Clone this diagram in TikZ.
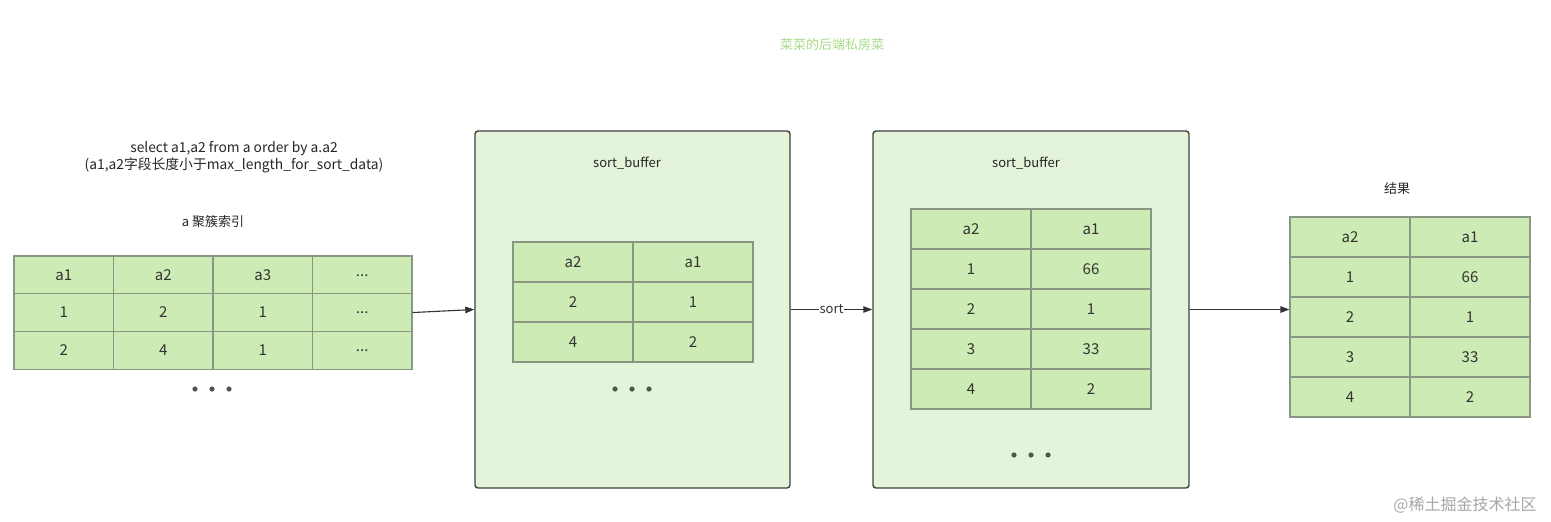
\documentclass[tikz,border=0pt]{standalone}
\usepackage{fontspec}
\setmainfont{Noto Sans CJK SC}
\usetikzlibrary{arrows.meta}
\definecolor{cellfill}{RGB}{205,235,181}
\definecolor{cellline}{RGB}{138,150,132}
\definecolor{boxfill}{RGB}{228,244,218}
\definecolor{boxline}{RGB}{64,64,64}
\definecolor{textdark}{RGB}{51,51,51}
\definecolor{dotcol}{RGB}{75,88,75}
\definecolor{titlegreen}{RGB}{170,218,138}

\begin{document}
\begin{tikzpicture}[x=1pt, y=-1pt,
		cell/.style={draw=cellline, fill=cellfill, line width=1.1pt, inner sep=0pt, text=textdark, font=\fontsize{15}{18}\selectfont},
		bufbox/.style={draw=boxline, fill=boxfill, line width=1.4pt, rounded corners=3pt, inner sep=0pt},
		lbl/.style={text=black!85, font=\fontsize{13}{17}\selectfont, align=center},
		arrow/.style={-{Triangle[length=9pt,width=6.5pt]}, draw=black!80, line width=1.1pt}]
		\useasboundingbox (0,0) rectangle (1551,522);

		% labels
		\node[lbl, text=titlegreen] (title) at (832,45) {菜菜的后端私房菜};
		\node[lbl, font=\fontsize{13.8}{17}\selectfont] (sql) at (234,157) {select a1,a2 from a order by a.a2\\(a1,a2字段长度小于max\_length\_for\_sort\_data)};
		\node[lbl] (idxname) at (213,222) {a 聚簇索引};
		\node[lbl] (resname) at (1397,189) {结果};
		\node[lbl, text=black!35, font=\fontsize{16}{18}\selectfont] (mark) at (1465,505) {@稀土掘金技术社区};

		% clustered index
		\foreach \row [count=\r] in {{a1,a2,a3,\raisebox{-3pt}{.{}.{}.}},{1,2,1,\raisebox{-3pt}{.{}.{}.}},{2,4,1,\raisebox{-3pt}{.{}.{}.}}}
			\foreach \val [count=\c] in \row
				\node[cell, minimum width=99.5pt, minimum height=37.7pt] (idx-\r-\c) at ({14+99.5*(\c-0.5)}, {256+37.7*(\r-0.5)}) {\val};
		\foreach \x in {195,212,229}
			\fill[dotcol] (\x,389) circle (2.6pt);

		% sort buffers
		\node[bufbox, minimum width=315pt, minimum height=357pt] (buf1) at (632.5,309.5) {};
		\node[lbl] (buf1name) at (627,163) {sort\_buffer};
		\foreach \row [count=\r] in {{a2,a1},{2,1},{4,2}}
			\foreach \val [count=\c] in \row
				\node[cell, minimum width=120pt, minimum height=40pt] (sb-\r-\c) at ({513+120*(\c-0.5)}, {242+40*(\r-0.5)}) {\val};
		\foreach \x in {615,632,649}
			\fill[dotcol] (\x,389) circle (2.6pt);

		\node[bufbox, minimum width=316pt, minimum height=357pt] (buf2) at (1031,309.5) {};
		\node[lbl] (buf2name) at (1026,163) {sort\_buffer};
		\foreach \row [count=\r] in {{a2,a1},{1,66},{2,1},{3,33},{4,2}}
			\foreach \val [count=\c] in \row
				\node[cell, minimum width=120pt, minimum height=40pt] (ss-\r-\c) at ({911+120*(\c-0.5)}, {209+40*(\r-0.5)}) {\val};
		\foreach \x in {1014,1031,1048}
			\fill[dotcol] (\x,455) circle (2.6pt);

		% result
		\foreach \row [count=\r] in {{a2,a1},{1,66},{2,1},{3,33},{4,2}}
			\foreach \val [count=\c] in \row
				\node[cell, minimum width=120pt, minimum height=40pt] (res-\r-\c) at ({1290+120*(\c-0.5)}, {217+40*(\r-0.5)}) {\val};

		% arrows
		\draw[arrow] (idx-2-4.east) -- (buf1.west);
		\draw[arrow] (buf1.east) -- node[fill=white, inner sep=1pt, text=textdark, font=\fontsize{13}{15}\selectfont] {sort} (buf2.west);
		\draw[arrow] (buf2.east) -- (buf2.east -| res-1-1.west);
	\end{tikzpicture}
\end{document}
